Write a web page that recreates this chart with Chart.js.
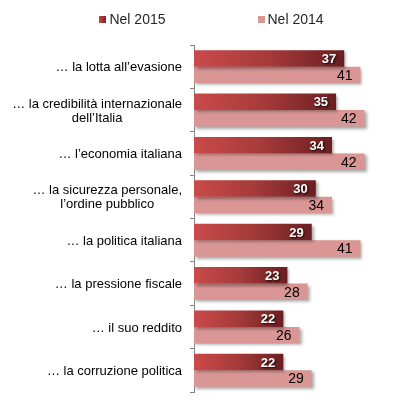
<!DOCTYPE html>
<html>
<head>
<meta charset="utf-8">
<script src="https://cdn.jsdelivr.net/npm/chart.js@4"></script>
<style>
  html, body { margin: 0; padding: 0; background: #fff; }
  #wrap { position: relative; width: 413px; height: 408px; }
  #legend { position: absolute; top: 11px; left: 5px; width: 413px; text-align: center;
            font: 14px "Liberation Sans", Arial, sans-serif; color: #262626; }
  #legend span { display: inline-block; margin: 0 46px; }
  #legend i { display: inline-block; width: 7px; height: 7px; margin-right: 3px; vertical-align: 1px; }
</style>
</head>
<body>
<div id="wrap">
  <canvas id="chart" width="413" height="408"></canvas>
  <div id="legend"></div>
</div>
<script>
// === DATA ===
const categories = [
  ['… la lotta all\u2019evasione'],
  ['… la credibilità internazionale', 'dell\u2019Italia'],
  ['… l\u2019economia italiana'],
  ['… la sicurezza personale,', 'l\u2019ordine pubblico'],
  ['… la politica italiana'],
  ['… la pressione fiscale'],
  ['… il suo reddito'],
  ['… la corruzione politica']
];
const seriesNames = ['Nel 2015', 'Nel 2014'];
const values2015 = [37, 35, 34, 30, 29, 23, 22, 22];
const values2014 = [41, 42, 42, 34, 41, 28, 26, 29];

const FONT = '"Liberation Sans", Arial, sans-serif';
const PINK = '#d99694';

// per-bar gradient, light red on the left to dark red at the bar end
function redGradient(ctx) {
  const chart = ctx.chart;
  const area = chart.chartArea;
  const xs = chart.scales.x;
  if (!area || !xs || ctx.type !== 'data') return '#a83a3a';
  const end = xs.getPixelForValue(ctx.raw);
  const g = chart.ctx.createLinearGradient(area.left, 0, Math.max(end, area.left + 1), 0);
  g.addColorStop(0, '#cb4a4a');
  g.addColorStop(0.5, '#a53a3a');
  g.addColorStop(1, '#6a1e20');
  return g;
}

// legend (html)
const legendEl = document.getElementById('legend');
legendEl.innerHTML =
  '<span><i style="background:linear-gradient(90deg,#c44545,#7a2426)"></i>' + seriesNames[0] + '</span>' +
  '<span><i style="background:' + PINK + '"></i>' + seriesNames[1] + '</span>';

// shadows under the bars
const barShadow = {
  id: 'barShadow',
  beforeDatasetDraw(chart) {
    const c = chart.ctx;
    c.save();
    c.shadowColor = 'rgba(0,0,0,0.35)';
    c.shadowBlur = 3;
    c.shadowOffsetX = 2;
    c.shadowOffsetY = 2;
  },
  afterDatasetDraw(chart) {
    chart.ctx.restore();
  }
};

// value labels inside the bar ends
const valueLabels = {
  id: 'valueLabels',
  afterDatasetsDraw(chart) {
    const c = chart.ctx;
    chart.data.datasets.forEach((ds, di) => {
      const meta = chart.getDatasetMeta(di);
      meta.data.forEach((bar, i) => {
        c.save();
        c.textAlign = 'right';
        c.textBaseline = 'middle';
        if (di === 0) {
          c.font = 'bold 13px ' + FONT;
          c.fillStyle = '#fff';
          c.shadowColor = 'rgba(0,0,0,0.9)';
          c.shadowBlur = 2;
          c.shadowOffsetX = 1;
          c.shadowOffsetY = 1;
        } else {
          c.font = '14px ' + FONT;
          c.fillStyle = '#000';
        }
        c.fillText(ds.data[i], bar.x - 8, bar.y + 1);
        c.restore();
      });
    });
  }
};

// category labels, each line centred within its block, block right-aligned to the axis
const catLabels = {
  id: 'catLabels',
  afterDraw(chart) {
    const c = chart.ctx;
    const ys = chart.scales.y;
    const right = chart.chartArea.left - 12;
    c.save();
    c.font = '13px ' + FONT;
    c.fillStyle = '#000';
    c.textBaseline = 'middle';
    c.textAlign = 'center';
    const lh = 14;
    categories.forEach((lines, i) => {
      const w = Math.max(...lines.map(l => c.measureText(l).width));
      const cx = right - w / 2;
      const yc = ys.getPixelForValue(i) + 1;
      lines.forEach((l, k) => {
        c.fillText(l, cx, yc + (k - (lines.length - 1) / 2) * lh);
      });
    });
    c.restore();
  }
};

new Chart(document.getElementById('chart'), {
  type: 'bar',
  data: {
    labels: categories,
    datasets: [
      { label: seriesNames[0], data: values2015, backgroundColor: redGradient },
      { label: seriesNames[1], data: values2014, backgroundColor: PINK }
    ]
  },
  options: {
    indexAxis: 'y',
    responsive: false,
    animation: false,
    categoryPercentage: 0.76,
    barPercentage: 1,
    layout: { padding: { top: 45, bottom: 16, left: 0, right: 16 } },
    scales: {
      x: { display: false, min: 0, max: 50 },
      y: {
        ticks: { display: false },
        grid: { drawOnChartArea: false, drawTicks: true, tickLength: 4, color: '#868686', offset: true },
        border: { color: '#868686', width: 1 },
        afterFit(scale) { scale.width = 194; }
      }
    },
    plugins: { legend: { display: false }, tooltip: { enabled: false } }
  },
  plugins: [barShadow, valueLabels, catLabels]
});
</script>
</body>
</html>
